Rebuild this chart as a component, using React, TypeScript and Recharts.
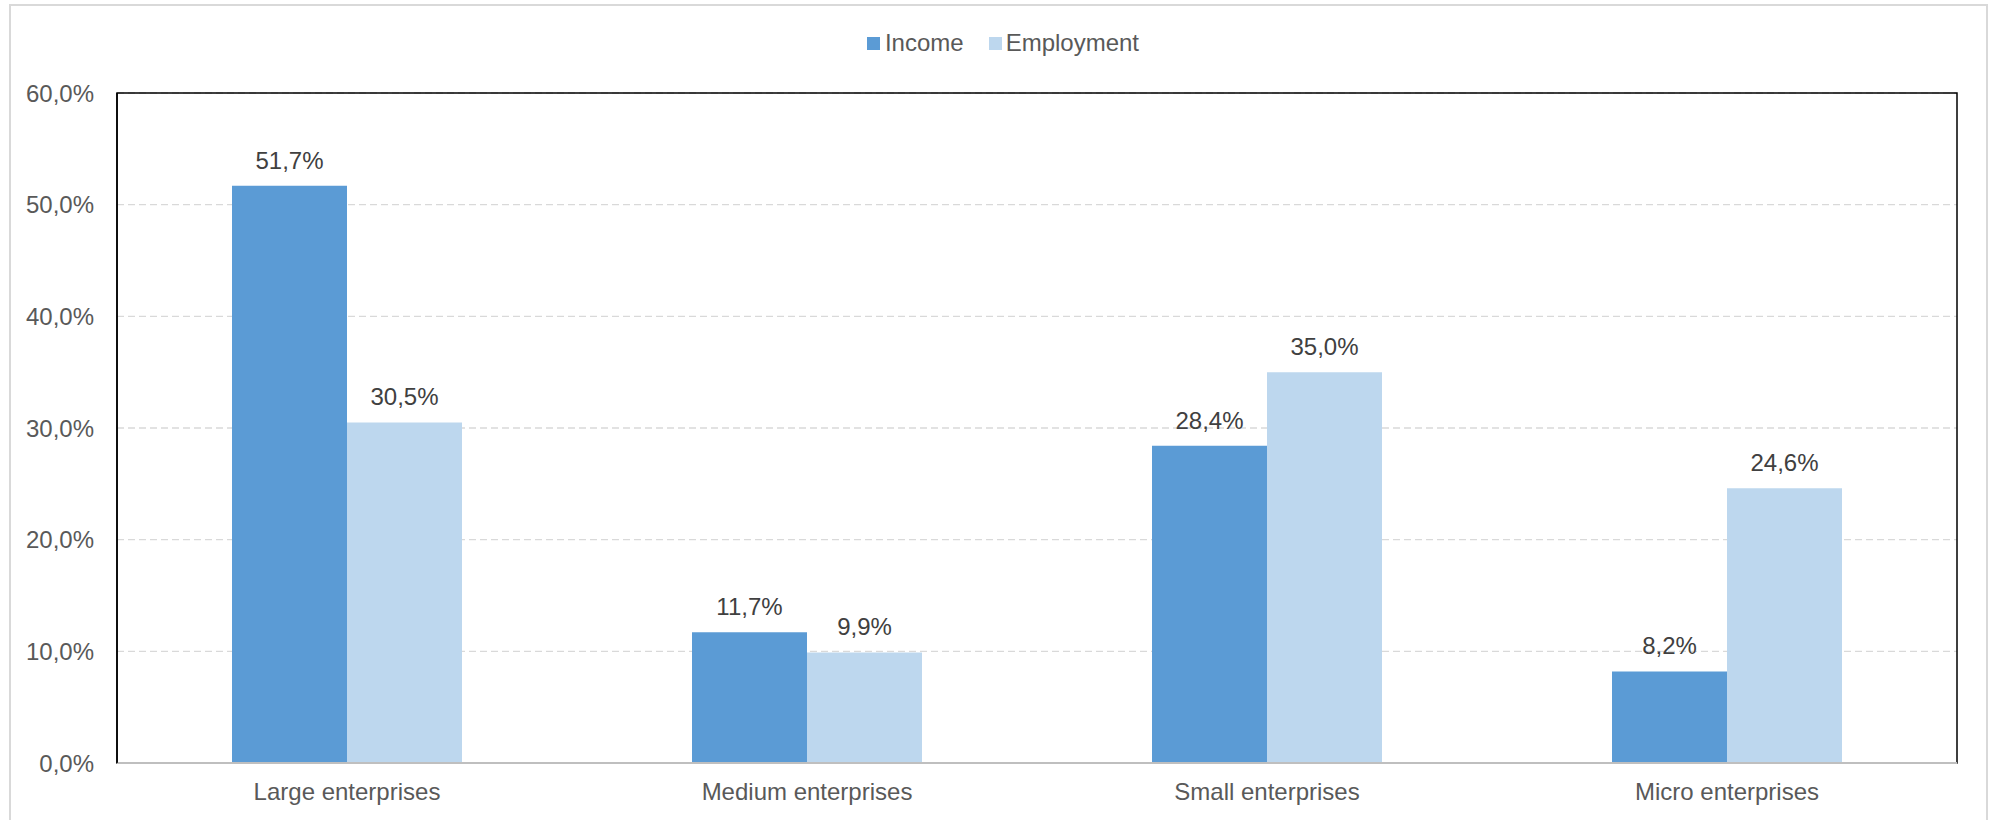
import React from 'react';
import { BarChart, Bar, XAxis, YAxis, CartesianGrid, Legend, LabelList, ReferenceArea } from 'recharts';

const categories = ['Large enterprises', 'Medium enterprises', 'Small enterprises', 'Micro enterprises'];
const incomeValues = [51.7, 11.7, 28.4, 8.2];
const employmentValues = [30.5, 9.9, 35.0, 24.6];
const yTicks = [0, 10, 20, 30, 40, 50, 60];

const data = categories.map((name, i) => ({
  name,
  income: incomeValues[i],
  employment: employmentValues[i],
}));

const FONT = '"Liberation Sans", Arial, sans-serif';
const TEXT = '#595959';
const INCOME = '#5B9BD5';
const EMPLOY = '#BDD7EE';

const fmt = (v: number) => v.toFixed(1).replace('.', ',') + '%';

const LegendContent = () => (
  <div style={{ height: 40, display: 'flex', justifyContent: 'center', alignItems: 'center', fontFamily: FONT, fontSize: 24, color: TEXT, paddingLeft: 14, boxSizing: 'border-box' }}>
    <span style={{ display: 'inline-flex', alignItems: 'center', marginRight: 25 }}>
      <span style={{ width: 13, height: 13, background: INCOME, display: 'inline-block', marginRight: 5 }} />
      Income
    </span>
    <span style={{ display: 'inline-flex', alignItems: 'center' }}>
      <span style={{ width: 13, height: 13, background: EMPLOY, display: 'inline-block', marginRight: 4 }} />
      Employment
    </span>
  </div>
);

export default function App() {
  return (
    <div style={{ position: 'absolute', left: 0, top: 0, width: 1992, height: 820, overflow: 'hidden', background: '#fff' }}>
      <div style={{ position: 'absolute', left: 9, top: 4, width: 1979, height: 900, border: '2px solid #d9d9d9', boxSizing: 'border-box' }} />
      <div style={{ position: 'absolute', left: 0, top: 0 }}>
        <BarChart
          width={1992}
          height={820}
          data={data}
          margin={{ top: 53, right: 35, bottom: 27, left: 0 }}
          barCategoryGap="25%"
          barGap={0}
          style={{ fontFamily: FONT }}
        >
          <Legend verticalAlign="top" align="center" content={LegendContent} wrapperStyle={{ top: 23, left: 0, width: 1992 }} />
          <CartesianGrid vertical={false} stroke="#d9d9d9" strokeDasharray="7 4" strokeWidth={1.3} />
          <ReferenceArea y1={0} y2={60} fill="none" fillOpacity={0} stroke="#000" strokeWidth={1.5} ifOverflow="visible" />
          <XAxis
            dataKey="name"
            height={30}
            tickLine={false}
            tickSize={0}
            tickMargin={20}
            axisLine={{ stroke: '#bfbfbf', strokeWidth: 2 }}
            tick={{ fill: TEXT, fontSize: 24, fontFamily: FONT }}
            interval={0}
          />
          <YAxis
            width={117}
            domain={[0, 60]}
            ticks={yTicks}
            tickFormatter={fmt}
            tickLine={false}
            tickSize={0}
            tickMargin={23}
            axisLine={{ stroke: '#000', strokeWidth: 1.5 }}
            tick={{ fill: TEXT, fontSize: 24, fontFamily: FONT }}
            interval={0}
          />
          <Bar dataKey="income" name="Income" fill={INCOME} isAnimationActive={false}>
            <LabelList dataKey="income" position="top" offset={17} formatter={(v: any) => fmt(Number(v))} style={{ fill: '#404040', fontSize: 24, fontFamily: FONT }} />
          </Bar>
          <Bar dataKey="employment" name="Employment" fill={EMPLOY} isAnimationActive={false}>
            <LabelList dataKey="employment" position="top" offset={17} formatter={(v: any) => fmt(Number(v))} style={{ fill: '#404040', fontSize: 24, fontFamily: FONT }} />
          </Bar>
        </BarChart>
      </div>
    </div>
  );
}
